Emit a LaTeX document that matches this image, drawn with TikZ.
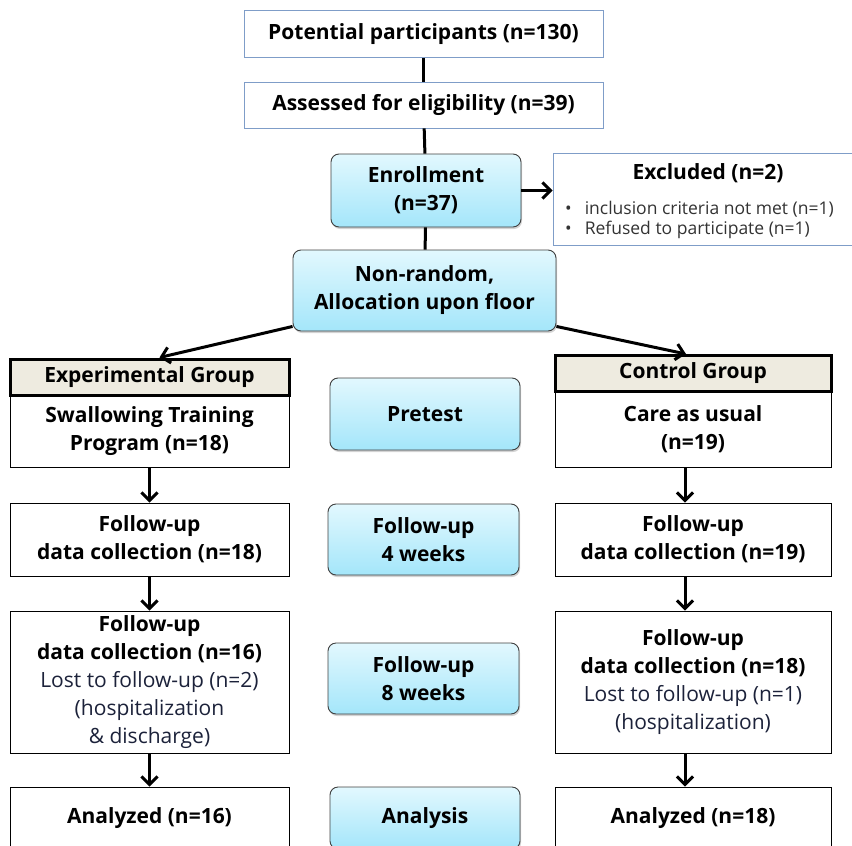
\documentclass[tikz,border=0pt]{standalone}
\usepackage{fontspec}
\setmainfont{Open Sans}
\definecolor{EdgeBlue}{RGB}{127,157,200}
\definecolor{SkyTop}{RGB}{226,248,254}
\definecolor{SkyBottom}{RGB}{164,230,250}
\definecolor{HeadFill}{RGB}{238,235,224}
\definecolor{SoftText}{RGB}{28,34,58}
\usetikzlibrary{arrows.meta, positioning, shadows}
\newcommand{\losttext}[1]{{\mdseries\color{SoftText}#1}}

\begin{document}
\begin{tikzpicture}[x=1pt, y=-1pt,
        font=\fontsize{21}{28}\selectfont\bfseries,
        topbox/.style={rectangle, draw=EdgeBlue, line width=0.8pt, fill=white, minimum width=359pt, minimum height=47pt, inner sep=2pt},
        plainbox/.style={rectangle, draw=black, line width=0.8pt, fill=white, minimum width=279pt, align=center, inner sep=2pt},
        stage/.style={rectangle, rounded corners=8pt, draw=black!75, line width=0.9pt, top color=SkyTop, bottom color=SkyBottom, minimum width=190pt, minimum height=72pt, align=center, inner sep=2pt,
            drop shadow={shadow xshift=1pt, shadow yshift=-2pt, opacity=0.35}},
        grouphead/.style={rectangle, draw=black, line width=3pt, fill=HeadFill, minimum height=36pt, inner sep=2pt},
        link/.style={line width=3pt},
        arrow/.style={line width=3pt, -{Straight Barb[length=8pt, width=16pt]}}
    ]
        \useasboundingbox (0,0) rectangle (852,846);

        % top of the chart
        \node[topbox] (pot) at (423.5,34) {Potential participants (n=130)};
        \node[topbox, minimum height=46pt] (assess) at (423.5,105) {Assessed for eligibility (n=39)};
        \node[stage, minimum height=73pt] (enroll) at (426,190.5) {Enrollment\\(n=37)};
        \node[rectangle, draw=EdgeBlue, line width=0.8pt, fill=white, minimum width=310pt, minimum height=92pt] (excl) at (708,199) {};
        \node[below=7pt of excl.north] (exclTitle) {Excluded (n=2)};
        \node[anchor=north west, align=left, inner sep=0pt, font=\fontsize{17.5}{20}\selectfont\mdseries, text=black!80] (exclList) at (565,201)
            {\textbullet\hspace{13pt}inclusion criteria not met (n=1)\\ \textbullet\hspace{13pt}Refused to participate (n=1)};
        \node[stage, minimum width=263pt, minimum height=81pt] (nonrand) at (424.5,290.5) {Non-random,\\Allocation upon floor};

        % experimental arm
        \node[grouphead, minimum width=279pt] (expHead) at (149.5,377) {Experimental Group};
        \node[plainbox, minimum height=71pt] (expBody) at (149.5,431.5) {Swallowing Training\\Program (n=18)};
        \node[plainbox, minimum height=73pt] (expF1) at (149.5,539.5) {Follow-up\\data collection (n=18)};
        \node[plainbox, minimum height=142pt] (expF2) at (149.5,682) {Follow-up\\data collection (n=16)\\\losttext{Lost to follow-up (n=2)}\\\losttext{(hospitalization}\\\losttext{\& discharge)}};
        \node[plainbox, minimum height=62pt] (expAn) at (149.5,818) {Analyzed (n=16)};

        % time points
        \node[stage] (pre) at (425,414) {Pretest};
        \node[stage, minimum width=191pt, minimum height=71pt] (wk4) at (423.5,539.5) {Follow-up\\4 weeks};
        \node[stage, minimum width=191pt, minimum height=71pt] (wk8) at (423.5,678.5) {Follow-up\\8 weeks};
        \node[stage, minimum height=62pt] (an) at (425,818) {Analysis};

        % control arm
        \node[grouphead, minimum width=276pt] (ctlHead) at (693,373.5) {Control Group};
        \node[plainbox, minimum width=276pt, minimum height=75pt] (ctlBody) at (693,429.5) {Care as usual\\(n=19)};
        \node[plainbox, minimum width=276pt, minimum height=73pt] (ctlF1) at (693,539.5) {Follow-up\\data collection (n=19)};
        \node[plainbox, minimum width=276pt, minimum height=142pt] (ctlF2) at (693,682) {Follow-up\\data collection (n=18)\\\losttext{Lost to follow-up (n=1)}\\\losttext{(hospitalization)}};
        \node[plainbox, minimum width=276pt, minimum height=62pt] (ctlAn) at (693,818) {Analyzed (n=18)};

        % connectors
        \draw[link] (pot) -- (assess);
        \draw[link] (assess) -- (enroll);
        \draw[link] (enroll) -- (nonrand);
        \draw[arrow] (enroll.east) -- (excl.west |- enroll.east);
        \draw[arrow] ([yshift=5pt]nonrand.south west) -- ([xshift=10pt]expHead.north);
        \draw[arrow] ([yshift=5pt]nonrand.south east) -- ([xshift=-7pt]ctlHead.north);
        \draw[arrow] (expBody) -- (expF1);
        \draw[arrow] (expF1) -- (expF2);
        \draw[arrow] (expF2) -- (expAn);
        \draw[arrow] ([xshift=-8pt]ctlBody.south) -- ([xshift=-8pt]ctlF1.north);
        \draw[arrow] ([xshift=-8pt]ctlF1.south) -- ([xshift=-8pt]ctlF2.north);
        \draw[arrow] ([xshift=-8pt]ctlF2.south) -- ([xshift=-8pt]ctlAn.north);
    \end{tikzpicture}
\end{document}
